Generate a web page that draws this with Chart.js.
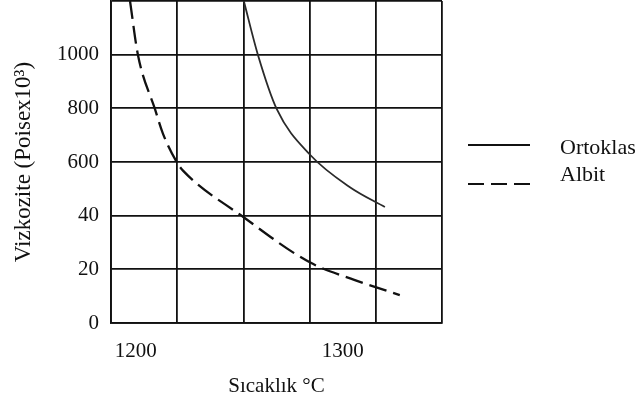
<!DOCTYPE html>
<html>
<head>
<meta charset="utf-8">
<script src="https://cdn.jsdelivr.net/npm/chart.js@4/dist/chart.umd.min.js"></script>
<style>
html,body{margin:0;padding:0;background:#fff;}
#wrap{width:644px;height:405px;position:relative;}
</style>
</head>
<body>
<div id="wrap"><canvas id="c" width="644" height="405"></canvas></div>
<script>
// Y tick labels (non-linear scale, one label per grid row)
const yTickLabels = ['0', '20', '40', '600', '800', '1000', ''];
// X tick labels (temperature, °C)
const xTickValues = [1200, 1300];
// Series: temperature (°C) and row position on the viscosity grid
const ortoklasT = [1252.2, 1259.0, 1268.2, 1284.1, 1303.5, 1320.4];
const ortoklasV = [6.0, 5.0, 3.98, 3.14, 2.53, 2.16];
const albitT = [1197.2, 1201.0, 1209.3, 1213.1, 1219.9, 1222.8, 1251.8, 1284.1, 1305.9, 1327.6];
const albitV = [6.0, 5.0, 3.98, 3.53, 2.99, 2.84, 1.98, 1.13, 0.80, 0.52];
const seriesNames = ['Ortoklas', 'Albit'];

const FONT = '"Liberation Serif", "Times New Roman", serif';
const INK = '#111';

const toPts = (xs, ys) => xs.map((x, i) => ({x: x, y: ys[i]}));

function noPad(s) { s.paddingTop = 0; s.paddingBottom = 0; s.paddingLeft = 0; s.paddingRight = 0; }

const legendPlugin = {
  id: 'sideLegend',
  afterDraw(chart) {
    const ctx = chart.ctx;
    const ca = chart.chartArea;
    const x0 = ca.right + 26, x1 = ca.right + 88, tx = ca.right + 118;
    ctx.save();
    ctx.strokeStyle = INK;
    ctx.lineWidth = 1.8;
    ctx.beginPath(); ctx.moveTo(x0, 145); ctx.lineTo(x1, 145); ctx.stroke();
    ctx.lineWidth = 2.2;
    ctx.setLineDash([16, 7]);
    ctx.beginPath(); ctx.moveTo(x0, 184); ctx.lineTo(x1 + 2, 184); ctx.stroke();
    ctx.setLineDash([]);
    ctx.fillStyle = INK;
    ctx.font = '22px ' + FONT;
    ctx.textBaseline = 'alphabetic';
    ctx.textAlign = 'left';
    ctx.fillText(seriesNames[0], tx, 154);
    ctx.fillText(seriesNames[1], tx, 181);
    ctx.restore();
  }
};

new Chart(document.getElementById('c'), {
  type: 'line',
  data: {
    datasets: [
      {
        label: seriesNames[0],
        data: toPts(ortoklasT, ortoklasV),
        borderColor: '#2a2a2a',
        borderWidth: 1.8,
        pointRadius: 0,
        cubicInterpolationMode: 'monotone',
        fill: false,
        xAxisID: 'x', yAxisID: 'y'
      },
      {
        label: seriesNames[1],
        data: toPts(albitT, albitV),
        borderColor: INK,
        borderWidth: 2.3,
        borderDash: [18, 7],
        pointRadius: 0,
        cubicInterpolationMode: 'monotone',
        fill: false,
        xAxisID: 'x', yAxisID: 'y'
      }
    ]
  },
  options: {
    responsive: false,
    animation: false,
    layout: {padding: {left: 0, right: 202, top: 1, bottom: 0}},
    plugins: {legend: {display: false}, tooltip: {enabled: false}},
    scales: {
      x: {
        type: 'linear', position: 'bottom',
        min: 1188, max: 1348,
        ticks: {display: false, stepSize: 32},
        afterBuildTicks(s) { const t = []; for (let v = 1188; v <= 1348.01; v += 32) t.push({value: v}); s.ticks = t; },
        grid: {color: INK, lineWidth: 1.8, drawTicks: false},
        border: {color: INK, width: 1.8},
        afterFit(s) { s.height = 0; noPad(s); }
      },
      xl: {
        type: 'linear', position: 'bottom',
        min: 1188, max: 1348,
        afterBuildTicks(s) { s.ticks = xTickValues.map(v => ({value: v})); },
        ticks: {color: INK, font: {family: FONT, size: 21}, padding: 16, maxRotation: 0, autoSkip: false, callback: (v) => String(v)},
        grid: {display: false, drawTicks: false},
        border: {display: false},
        title: {display: true, text: 'Sıcaklık °C', color: INK, font: {family: FONT, size: 21}, padding: {top: 0, bottom: 6}},
        afterFit(s) { s.height = 82; noPad(s); }
      },
      y: {
        type: 'linear', min: 0, max: 6,
        afterBuildTicks(s) { s.ticks = yTickLabels.map((l, i) => ({value: i})); },
        ticks: {color: INK, font: {family: FONT, size: 21}, padding: 12, callback: (v) => yTickLabels[v]},
        grid: {color: INK, lineWidth: 1.8, drawTicks: false},
        border: {color: INK, width: 1.8},
        title: {display: true, text: 'Vizkozite (Poisex10³)', color: INK, font: {family: FONT, size: 23}, padding: {top: 10, bottom: 0}},
        afterFit(s) { s.width = 111; noPad(s); }
      }
    }
  },
  plugins: [legendPlugin]
});
</script>
</body>
</html>
